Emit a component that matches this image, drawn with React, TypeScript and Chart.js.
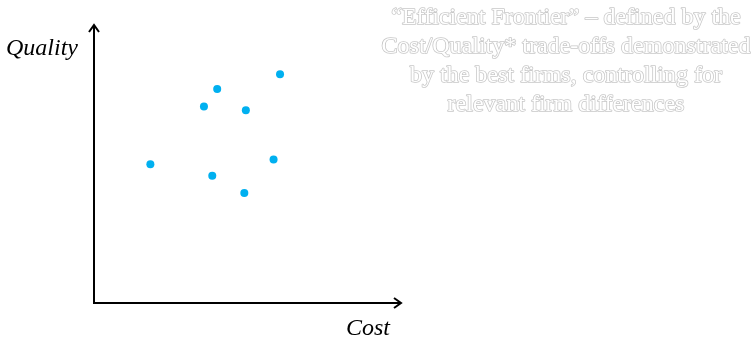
import React, { useEffect, useRef } from "react";
import { Chart, registerables } from "chart.js";

Chart.register(...registerables);

const costValues = [60.4, 40.0, 35.7, 49.3, 18.3, 58.3, 38.4, 48.8];
const qualityValues = [82.0, 76.7, 70.4, 69.1, 49.7, 51.4, 45.6, 39.4];
const xAxisLabel = "Cost";
const yAxisLabel = "Quality";
const noteLines = [
  "\u201CEfficient Frontier\u201D \u2013 defined by the",
  "Cost/Quality* trade-offs demonstrated",
  "by the best firms, controlling for",
  "relevant firm differences",
];

const axesPlugin = {
  id: "axesArrows",
  afterDraw(chart: any) {
    const ctx = chart.ctx as CanvasRenderingContext2D;
    const x = chart.scales.x;
    const y = chart.scales.y;
    const left = x.getPixelForValue(x.min);
    const right = x.getPixelForValue(x.max);
    const bottom = y.getPixelForValue(y.min);
    const top = y.getPixelForValue(y.max);
    ctx.save();
    ctx.strokeStyle = "#000";
    ctx.lineWidth = 2;
    ctx.lineCap = "butt";
    ctx.beginPath();
    ctx.moveTo(left, top + 1);
    ctx.lineTo(left, bottom);
    ctx.lineTo(right - 1, bottom);
    ctx.stroke();
    // arrowheads
    ctx.lineJoin = "miter";
    ctx.beginPath();
    ctx.moveTo(left - 5, top + 8);
    ctx.lineTo(left, top + 1);
    ctx.lineTo(left + 5, top + 8);
    ctx.stroke();
    ctx.beginPath();
    ctx.moveTo(right - 8, bottom - 5);
    ctx.lineTo(right - 1, bottom);
    ctx.lineTo(right - 8, bottom + 5);
    ctx.stroke();

    // axis labels
    ctx.fillStyle = "#000";
    ctx.font = "italic 24px 'Liberation Serif', 'Times New Roman', serif";
    ctx.textBaseline = "alphabetic";
    ctx.textAlign = "right";
    ctx.fillText(yAxisLabel, left - 16, top + 31);
    ctx.fillText(xAxisLabel, right - 12, bottom + 32);

    // note text (outlined, hollow)
    ctx.font = "24px 'Liberation Serif', 'Times New Roman', serif";
    ctx.textAlign = "center";
    ctx.lineWidth = 1.6;
    ctx.lineJoin = "round";
    ctx.strokeStyle = "#c8c8c8";
    ctx.fillStyle = "#ffffff";
    noteLines.forEach((line, i) => {
      const ty = 24 + i * 29;
      ctx.strokeText(line, 566, ty);
      ctx.fillText(line, 566, ty);
    });
    ctx.restore();
  },
};

export default function App() {
  const ref = useRef<HTMLCanvasElement | null>(null);
  useEffect(() => {
    if (!ref.current) return;
    const chart = new Chart(ref.current, {
      type: "scatter",
      data: {
        datasets: [
          {
            label: "Firms",
            data: costValues.map((c, i) => ({ x: c, y: qualityValues[i] })),
            backgroundColor: "#00b0f0",
            borderColor: "#00b0f0",
            pointRadius: 4,
            pointHoverRadius: 4,
            borderWidth: 0,
          },
        ],
      },
      options: {
        animation: false,
        responsive: false,
        layout: { padding: { left: 94, top: 24, right: 351, bottom: 35 } },
        plugins: {
          legend: { display: false },
          tooltip: { enabled: false },
          title: { display: false },
        },
        scales: {
          x: { type: "linear", min: 0, max: 100, display: false },
          y: { type: "linear", min: 0, max: 100, display: false },
        },
      },
      plugins: [axesPlugin],
    });
    return () => chart.destroy();
  }, []);
  return (
    <div style={{ position: "absolute", left: 0, top: 0, width: 753, height: 338, background: "#fff" }}>
      <canvas ref={ref} width={753} height={338} />
    </div>
  );
}
